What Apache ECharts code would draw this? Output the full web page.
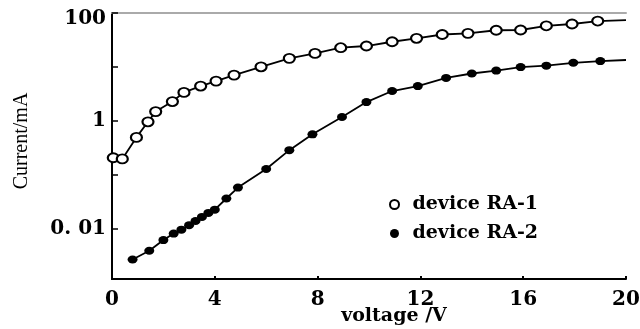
<!DOCTYPE html>
<html>
<head>
<meta charset="utf-8">
<script src="https://cdn.jsdelivr.net/npm/echarts@6/dist/echarts.min.js"></script>
<style>
  html, body { margin: 0; padding: 0; background: #fff; }
  #chart { width: 640px; height: 329px; }
</style>
</head>
<body>
<div id="chart"></div>
<script>
// values (voltage in V, current in mA)
var ra1Voltage = [0.05, 0.4, 0.95, 1.4, 1.7, 2.35, 2.8, 3.45, 4.05, 4.75, 5.8, 6.9, 7.9, 8.9, 9.9, 10.9, 11.85, 12.85, 13.85, 14.95, 15.9, 16.9, 17.9, 18.9];
var ra1Current = [0.21, 0.2, 0.5, 0.97, 1.5, 2.3, 3.4, 4.45, 5.5, 7.1, 10.1, 14.5, 17.9, 22.8, 24.5, 29.4, 34, 40, 42, 48, 48.5, 58, 62.6, 71];
var ra1LineEnd = [20, 74];

var ra2Voltage = [0.8, 1.45, 2.0, 2.4, 2.7, 3.0, 3.25, 3.5, 3.75, 4.0, 4.45, 4.9, 6.0, 6.9, 7.8, 8.95, 9.9, 10.9, 11.9, 13.0, 14.0, 14.95, 15.9, 16.9, 17.95, 19.0];
var ra2Current = [0.00275, 0.004, 0.0063, 0.0083, 0.0098, 0.0119, 0.0142, 0.0169, 0.020, 0.023, 0.037, 0.059, 0.13, 0.29, 0.57, 1.19, 2.25, 3.6, 4.45, 6.3, 7.6, 8.6, 10, 10.6, 12, 12.9];
var ra2LineEnd = [20, 13.5];

var xTicks = [0, 4, 8, 12, 16, 20];
var yLabels = { '100': '{top|100}', '1': '1', '0.01': '0. 01' };

function pairs(xs, ys, end) {
    var out = xs.map(function (v, i) { return [v, ys[i]]; });
    out.push({ value: end, symbol: 'none' });
    return out;
}

var chart = echarts.init(document.getElementById('chart'));
var serif = 'DejaVu Serif';

var option = {
    animation: false,
    backgroundColor: '#fff',
    grid: { left: 112, right: 14, top: 13, bottom: 50, containLabel: false, outerBoundsMode: 'none' },
    legend: {
        orient: 'vertical',
        left: 384,
        top: 190,
        itemWidth: 26,
        itemHeight: 9,
        itemGap: 10,
        textStyle: { fontFamily: serif, fontWeight: 'bold', fontSize: 19, color: '#000' },
        data: [
            { name: 'device RA-1', icon: 'emptyCircle', itemStyle: { color: '#000', borderWidth: 3 } },
            { name: 'device RA-2', icon: 'circle', itemStyle: { color: '#000' } }
        ]
    },
    xAxis: [{
        type: 'value',
        min: 0,
        max: 20,
        interval: 4,
        name: 'voltage /V',
        nameLocation: 'middle',
        nameGap: 28,
        nameMoveOverlap: false,
        nameTextStyle: { fontFamily: serif, fontWeight: 'bold', fontSize: 19, color: '#000', padding: [0, 0, 0, 50] },
        axisLine: { lineStyle: { color: '#000', width: 2 } },
        axisTick: { inside: true, length: 3, lineStyle: { color: '#000', width: 2 } },
        axisLabel: { fontFamily: serif, fontWeight: 'bold', fontSize: 20, color: '#000', margin: 11,
            formatter: function (v) { return xTicks.indexOf(v) >= 0 ? String(v) : ''; } },
        splitLine: { show: false }
    }, {
        type: 'value',
        position: 'top',
        min: 0,
        max: 20,
        axisLine: { lineStyle: { color: '#aaa', width: 2 } },
        axisTick: { show: false },
        axisLabel: { show: false },
        splitLine: { show: false }
    }],
    yAxis: [{
        type: 'log',
        logBase: 10,
        min: 0.0012,
        max: 100,
        name: 'Current/mA',
        nameLocation: 'middle',
        nameGap: 80,
        nameMoveOverlap: false,
        nameRotate: 90,
        nameTextStyle: { fontFamily: 'Liberation Serif', fontSize: 20, color: '#000', padding: [0, 0, 0, 10] },
        axisLine: { lineStyle: { color: '#000', width: 2 } },
        axisTick: { inside: true, length: 6, lineStyle: { color: '#000', width: 1.5 } },
        axisLabel: {
            fontFamily: serif, fontWeight: 'bold', fontSize: 20, color: '#000', margin: 6,
            rich: { top: { fontFamily: serif, fontWeight: 'bold', fontSize: 20, color: '#000', padding: [12, 0, 0, 0] } },
            formatter: function (v) {
                var k = String(+v.toPrecision(3));
                return yLabels[k] || '';
            }
        },
        splitLine: { show: false }
    }, {
        type: 'log',
        logBase: 10,
        position: 'right',
        min: 0.0012,
        max: 100,
        axisLine: { lineStyle: { color: '#000', width: 2 } },
        axisTick: { show: false },
        axisLabel: { show: false },
        splitLine: { show: false }
    }],
    series: [{
        name: 'device RA-1',
        type: 'line',
        data: pairs(ra1Voltage, ra1Current, ra1LineEnd),
        symbol: 'emptyCircle',
        symbolSize: [11, 9],
        itemStyle: { color: '#000', borderWidth: 3 },
        lineStyle: { color: '#000', width: 1.8 }
    }, {
        name: 'device RA-2',
        type: 'line',
        data: pairs(ra2Voltage, ra2Current, ra2LineEnd),
        symbol: 'circle',
        symbolSize: [10, 8],
        itemStyle: { color: '#000' },
        lineStyle: { color: '#000', width: 1.8 }
    }]
};

chart.setOption(option);
</script>
</body>
</html>
